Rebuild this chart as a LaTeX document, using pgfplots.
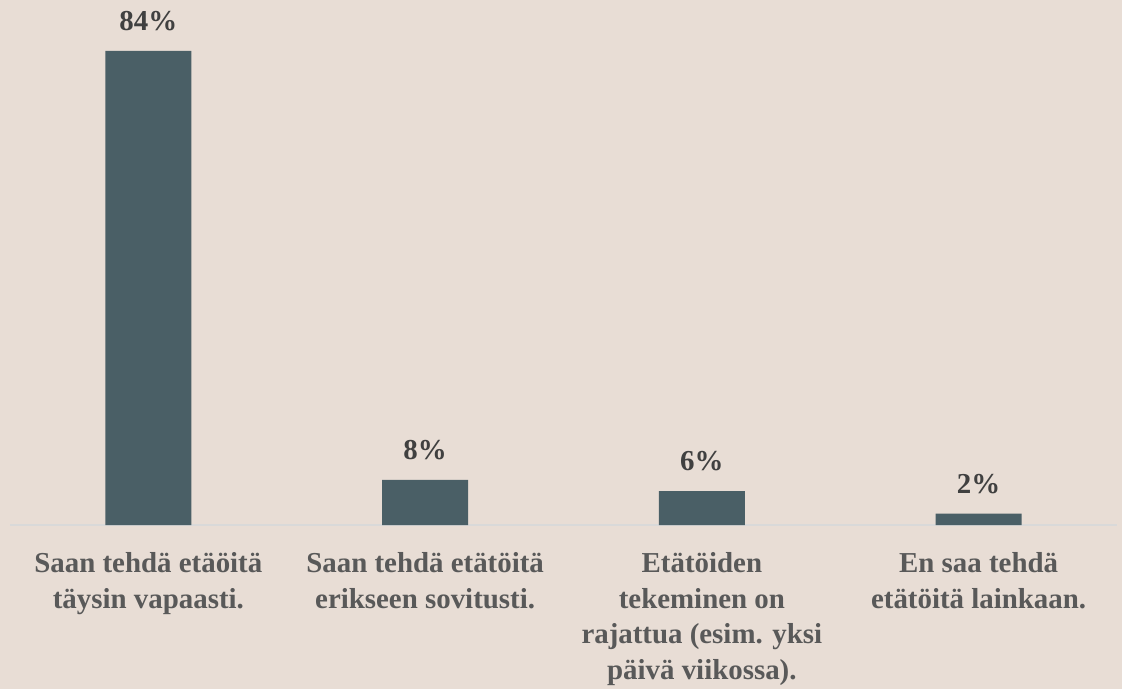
\documentclass[border=0pt]{standalone}
\usepackage{pgfplots}
\pgfplotsset{compat=1.18}
\usepackage{fontspec}
\setmainfont{Liberation Serif}
\definecolor{bg}{HTML}{E8DDD5}
\definecolor{barc}{HTML}{4A5F66}
\definecolor{lab}{HTML}{595959}
\definecolor{val}{HTML}{404040}
\definecolor{axl}{HTML}{D9D9D9}
\begin{document}
\begin{tikzpicture}
\path[use as bounding box, fill=bg] (0,0) rectangle (1122bp,689bp);
\begin{axis}[
  at={(10bp,164bp)}, anchor=south west,
  scale only axis, width=1107bp, height=507.9bp,
  xmin=-0.5, xmax=3.5, ymin=0, ymax=90,
  axis x line*=bottom, axis y line=none,
  x axis line style={draw=axl, line width=1.5bp},
  xtick={0,1,2,3}, major tick length=0pt,
  xticklabels={{Saan tehdä etäöitä\\täysin vapaasti.},{Saan tehdä etätöitä\\erikseen sovitusti.},{Etätöiden\\tekeminen on\\rajattua (esim. yksi\\päivä viikossa).},{En saa tehdä\\etätöitä lainkaan.}},
  xticklabel style={align=center, font=\fontsize{29}{36}\selectfont\bfseries, text=lab, inner sep=0pt, yshift=-27bp},
  ybar, bar width=86bp,
  nodes near coords={\pgfmathprintnumber[assume math mode=true]{\pgfplotspointmeta}\%},
  every node near coord/.append style={font=\fontsize{29}{32}\selectfont\bfseries, text=val, anchor=south, inner sep=0pt, yshift=20bp},
  clip=false,
]
\addplot[fill=barc, draw=none] coordinates {(0,84) (1,8) (2,6) (3,2)};
\end{axis}
\end{tikzpicture}
\end{document}
